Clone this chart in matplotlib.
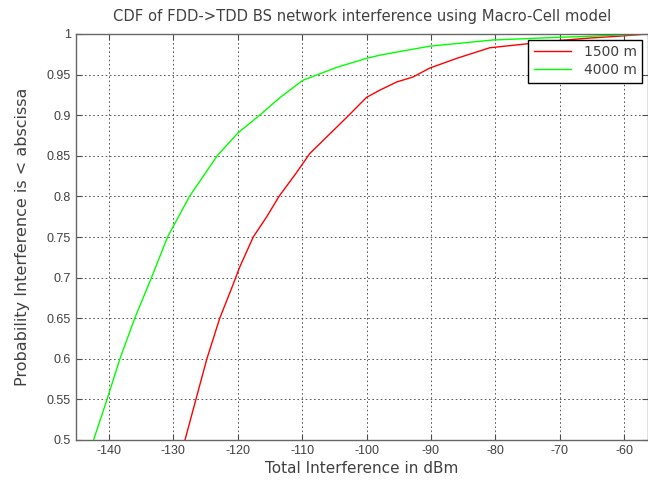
import numpy as np
import matplotlib
matplotlib.use("Agg")
from matplotlib import pyplot as plt

plt.rcParams['font.family'] = ['Liberation Sans', 'DejaVu Sans']

# values
red_x = [-128.2, -126.5, -124.8, -122.8, -120.9, -119.7, -117.6, -115.5, -113.6,
         -111.0, -108.8, -103.0, -100.0, -97.9, -95.3, -92.8, -90.2, -86.0,
         -80.9, -75.0, -70.0, -65.4, -61.4, -56.3]
red_y = [0.50, 0.55, 0.60, 0.65, 0.688, 0.713, 0.75, 0.775, 0.80,
         0.828, 0.853, 0.898, 0.922, 0.931, 0.941, 0.947, 0.958, 0.970,
         0.983, 0.988, 0.992, 0.995, 0.997, 1.0]

green_x = [-142.4, -140.3, -138.3, -136.0, -133.4, -130.9, -127.5, -123.2,
           -120.0, -116.6, -113.4, -109.9, -104.6, -100.0, -97.9, -90.2,
           -80.4, -70.0, -66.9, -60.0, -56.3]
green_y = [0.50, 0.55, 0.60, 0.65, 0.70, 0.75, 0.80, 0.85,
           0.878, 0.90, 0.922, 0.943, 0.959, 0.970, 0.974, 0.985,
           0.9926, 0.996, 0.9967, 0.999, 1.0]

labels = ['1500 m', '4000 m']
xticks = np.arange(-140, -59, 10)
yticks = np.arange(0.5, 1.001, 0.05)

fig = plt.figure(figsize=(6.48, 4.84), dpi=100)
ax = fig.add_axes([75.5 / 648, 44 / 484, 572.5 / 648, 406 / 484])

ax.plot(red_x, red_y, color=(1, 0, 0), lw=1.0, label=labels[0])
ax.plot(green_x, green_y, color=(0, 1, 0), lw=1.0, label=labels[1])

ax.set_xlim(-145.2, -56.3)
ax.set_ylim(0.5, 1.0)
ax.set_xticks(xticks)
ax.set_yticks(yticks)
ax.set_xticklabels(['%d' % t for t in xticks])
ax.set_yticklabels(['%g' % round(t, 2) for t in yticks])

ax.grid(True, color='0.25', linestyle=(0, (2, 3)), lw=0.6)
ax.tick_params(direction='in', top=True, right=True, labelsize=9,
               length=4, color='0.3', colors='0.25')
for s in ax.spines.values():
    s.set_color('0.4')
    s.set_linewidth(1.0)

ax.set_title('CDF of FDD->TDD BS network interference using Macro-Cell model',
             fontsize=10.6, family='DejaVu Sans', color='0.25', pad=9)
ax.set_xlabel('Total Interference in dBm', fontsize=11, family='DejaVu Sans',
              color='0.25', labelpad=3)
ax.set_ylabel('Probability Interference is < abscissa', fontsize=11.5,
              family='DejaVu Sans', color='0.25', labelpad=12)

leg = ax.legend(loc='upper right', prop={'family': 'DejaVu Sans', 'size': 10},
                fancybox=False, framealpha=1, edgecolor='k', borderpad=0.4,
                labelspacing=0.3, handlelength=2.7, handletextpad=0.9,
                borderaxespad=0.4)
leg.get_frame().set_linewidth(1.0)
for t in leg.get_texts():
    t.set_color('0.25')

fig.savefig('out.png', dpi=100)
